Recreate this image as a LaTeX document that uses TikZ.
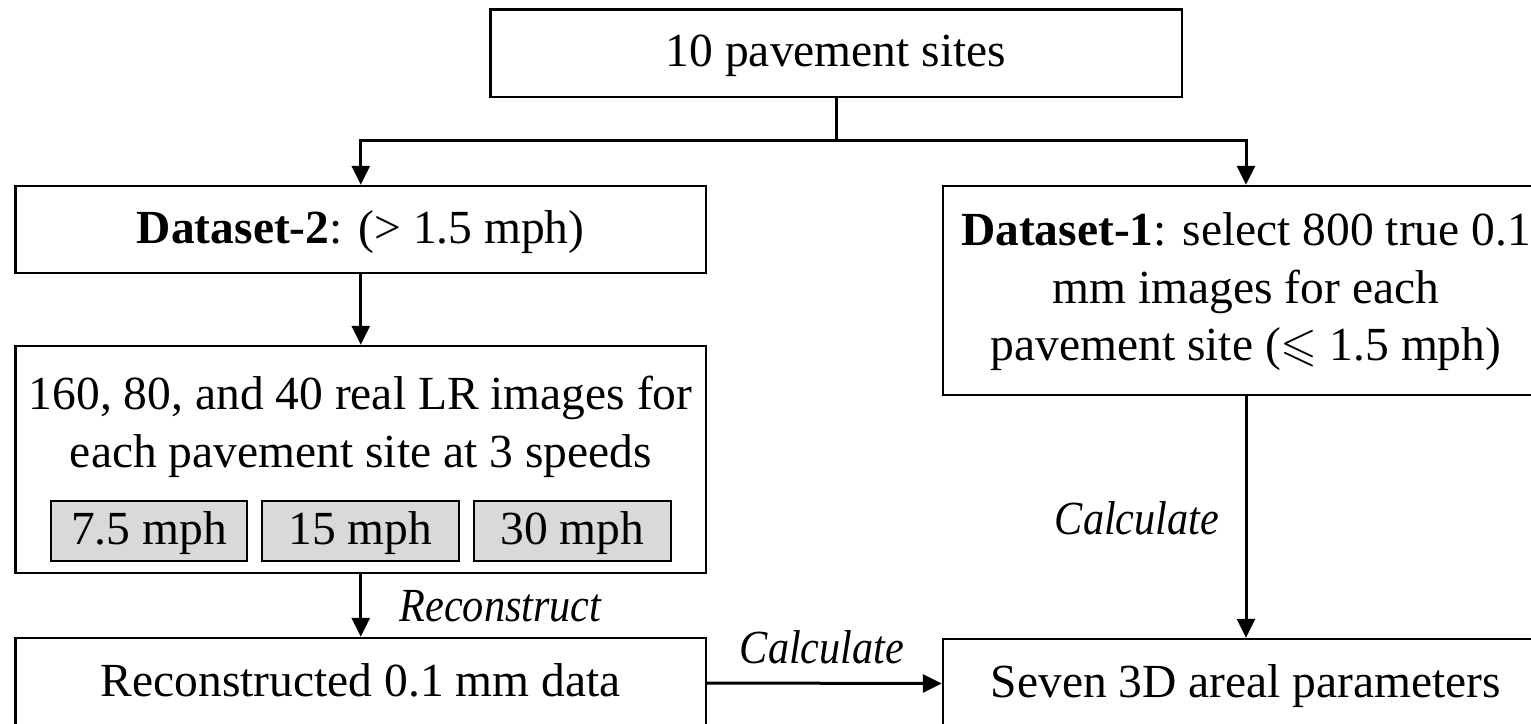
\documentclass[tikz,border=0pt]{standalone}
\usepackage{fontspec}
\setmainfont{Liberation Serif}
\usepackage{amssymb}
\usepackage{graphicx}
\usetikzlibrary{arrows.meta}
\definecolor{speedgray}{HTML}{D9D9D9}
\begin{document}
\begin{tikzpicture}[x=1pt,y=-1pt,
  font=\fontsize{47.5}{57.5}\selectfont,
  box/.style={draw=black,line width=2.4pt,inner sep=0pt,align=center},
  oneline/.style={text height=36pt,text depth=9pt},
  speedbox/.style={draw=black,line width=2pt,fill=speedgray,inner sep=0pt,
    minimum height=60pt,text height=36pt,text depth=9pt},
  link/.style={line width=3pt},
  conn/.style={line width=3pt,-{Triangle[length=19pt,width=18pt]}},
  lbl/.style={inner sep=0pt}]
\useasboundingbox (0,0) rectangle (1531,723);
\clip (0,0) rectangle (1531,723);
% boxes
\node[box,oneline,minimum width=691.4pt,minimum height=87.4pt] (top) at (836,53) {10 pavement sites};
\node[box,oneline,minimum width=690.5pt,minimum height=87pt] (d2) at (360.75,229.5) {\textbf{Dataset-2}: (> 1.5 mph)};
\node[box,minimum width=690.5pt,minimum height=227pt] (lr) at (360.75,459.5) {};
\node[inner sep=0pt,align=center] (lrtext) at (360.75,427) {160, 80, and 40 real LR images for\\each pavement site at 3 speeds};
\node[speedbox,minimum width=196pt] (s1) at (149,531) {7.5 mph};
\node[speedbox,minimum width=197pt] (s2) at (360.5,531) {15 mph};
\node[speedbox,minimum width=197pt] (s3) at (572.5,531) {30 mph};
\node[box,oneline,minimum width=690.5pt,minimum height=90pt] (rec) at (360.75,683) {Reconstructed 0.1 mm data};
\node[box,minimum width=606pt,minimum height=209pt] (d1) at (1246,290.5) {};
\node[inner sep=0pt,align=center] (d1text) at (1246,292) {\textbf{Dataset-1}: select 800 true 0.1\\mm images for each\\pavement site ($\leqslant$ 1.5 mph)};
\node[box,oneline,minimum width=606pt,minimum height=89pt] (seven) at (1246,683.5) {Seven 3D areal parameters};
% connectors
\coordinate (j) at (836,140);
\draw[link] (top.south) -- (j);
\draw[conn] (j) -| (d2.north);
\draw[conn] (j) -| (d1.north);
\draw[conn] (d2.south) -- (lr.north);
\draw[conn] (lr.south) -- (rec.north);
\draw[conn] (d1.south) -- (seven.north);
\draw[conn] (rec.east) -- (seven.west);
% labels
\node[lbl] (lrec) at (500.5,606) {\scalebox{0.89}[1]{\itshape Reconstruct}};
\node[lbl] (lcalc1) at (822,647) {\scalebox{0.89}[1]{\itshape Calculate}};
\node[lbl] (lcalc2) at (1137,518) {\scalebox{0.89}[1]{\itshape Calculate}};
\end{tikzpicture}
\end{document}
